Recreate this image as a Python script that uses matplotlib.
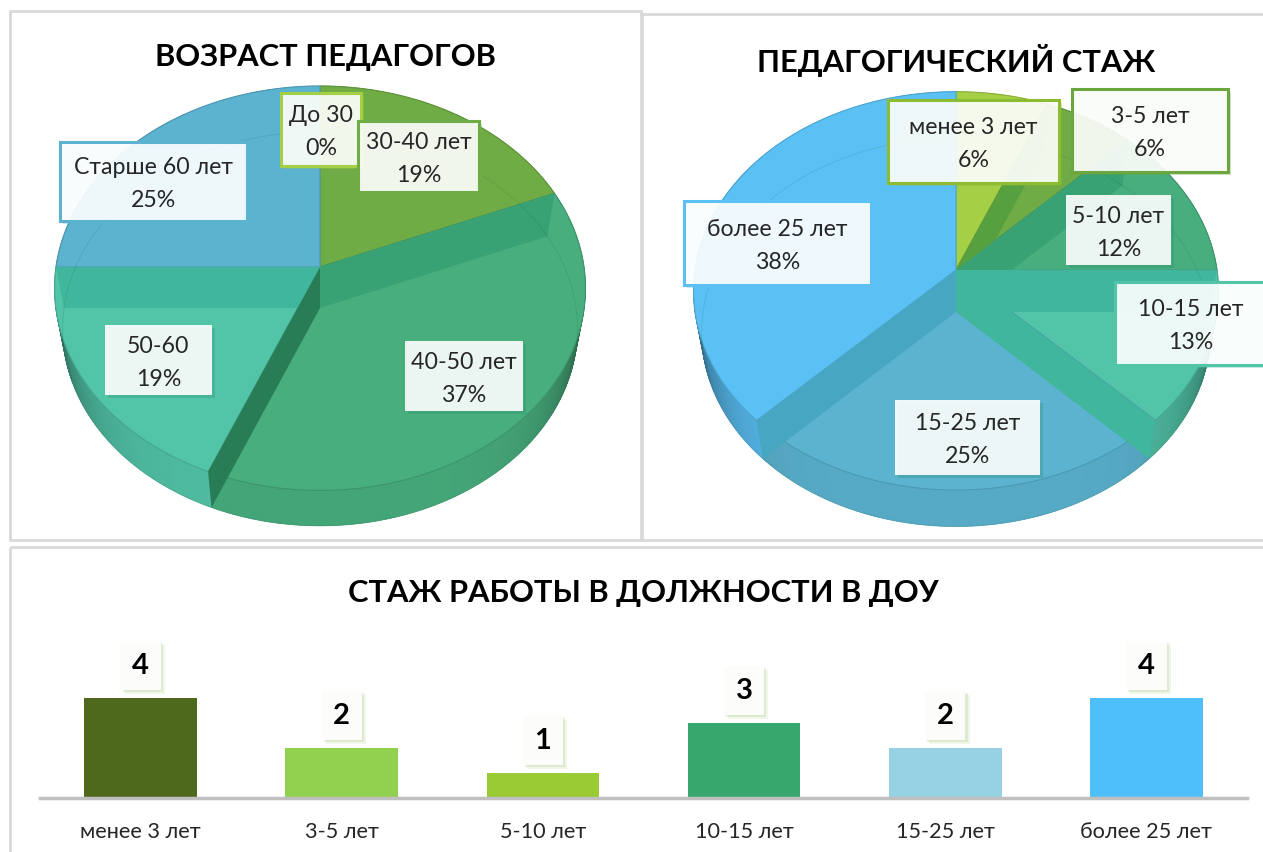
"""Teacher age and experience: two glassy 3D pies and a bar chart."""

import matplotlib

matplotlib.use("Agg")
import matplotlib.pyplot as plt
import matplotlib.patheffects as pe
import numpy as np
from matplotlib.colors import to_rgb
from matplotlib.patches import Polygon, Rectangle

plt.rcParams["font.family"] = ["Lato", "Noto Sans", "DejaVu Sans"]

W, H = 1263, 853

# Counts per slice (16 teachers in total), printed percentages beside them.
AGE_NAMES = ["До 30", "30-40 лет", "40-50 лет", "50-60", "Старше 60 лет"]
AGE_COUNTS = [0, 3, 6, 3, 4]
AGE_PERCENT = ["0%", "19%", "37%", "19%", "25%"]
AGE_COLORS = ["#A5CF45", "#70AC45", "#48AE7E", "#52C4A8", "#5BB3D0"]
AGE_LABEL_BOXES = [
    (281, 94, 361, 167),
    (358, 122, 479, 193),
    (405, 342, 523, 412),
    (105, 326, 212, 396),
    (60, 143, 247, 222),
]
AGE_BORDERS = ["#A5CF45", "#70AC45", "none", "none", "#5BB3D0"]

STAJ_NAMES = ["менее 3 лет", "3-5 лет", "5-10 лет", "10-15 лет", "15-25 лет", "более 25 лет"]
STAJ_COUNTS = [1, 1, 2, 2, 4, 6]
STAJ_PERCENT = ["6%", "6%", "12%", "13%", "25%", "38%"]
STAJ_COLORS = ["#A5CF45", "#70AC45", "#48AE7E", "#52C4A8", "#5BB3D0", "#5BC1F5"]
STAJ_LABEL_BOXES = [
    (888, 101, 1059, 184),
    (1072, 90, 1228, 173),
    (1066, 196, 1171, 266),
    (1115, 283, 1290, 366),
    (895, 401, 1040, 476),
    (684, 202, 871, 286),
]
STAJ_BORDERS = ["#8DBB32", "#6BA63E", "none", "#52C4A8", "none", "#5BC1F5"]

DOU_NAMES = ["менее 3 лет", "3-5 лет", "5-10 лет", "10-15 лет", "15-25 лет", "более 25 лет"]
DOU_COUNTS = [4, 2, 1, 3, 2, 4]
DOU_COLORS = ["#4F691C", "#92D050", "#9ACB34", "#38A76E", "#97D1E4", "#4FBFFB"]


def project(theta, cx, cy, rx, ry, persp=0.105):
    """Map clockwise-from-top angle on a unit circle to pixels, with perspective."""
    x = np.sin(theta)
    y = np.cos(theta)
    s = 1 / (1 + persp * y)
    return np.column_stack([cx + rx * x * s, cy - ry * y * s])


def shade(color, factor):
    return tuple(c * factor for c in to_rgb(color))


def is_front_wall(angle):
    return np.cos(angle) < 0 and abs(np.sin(angle)) < 0.5


def wall_shade(color, angle):
    """Inner walls keep the hue: red drops most, front-facing ones are darker."""
    r, g, b = to_rgb(color)
    if is_front_wall(angle):
        return (r * 0.57, g * 0.72, b * 0.68)
    return (r * 0.78, g * 0.93, b * 0.93)


def draw_pie(ax, counts, colors, cx, cy, depth, rx, ry_top, ry_bot):
    top = dict(cx=cx, cy=cy, rx=rx, ry=ry_top)
    bot = dict(cx=cx, cy=cy + depth, rx=rx - 8, ry=ry_bot)
    edges = np.cumsum([0] + counts) / sum(counts) * 2 * np.pi

    spans = [(a, b, c) for a, b, c in zip(edges[:-1], edges[1:], colors) if b > a]

    # bottom faces
    for a, b, c in spans:
        arc = project(np.linspace(a, b, 120), **bot)
        ax.add_patch(Polygon(np.vstack([[cx, cy + depth], arc]), fc=shade(c, 0.95), ec="none", zorder=2))

    # outer rim, darker towards the left and right ends
    for a, b, c in spans:
        th = np.linspace(a, b, max(int((b - a) * 60), 2))
        upper = project(th, **top)
        lower = project(th, **bot)
        for i in range(len(th) - 1):
            mid = (th[i] + th[i + 1]) / 2
            dark = 0.95 - 0.42 * abs(np.sin(mid)) ** 6
            quad = [upper[i], upper[i + 1], lower[i + 1], lower[i]]
            ax.add_patch(Polygon(quad, fc=shade(c, dark), ec=shade(c, dark), lw=0.4, zorder=3))

    # top faces
    for a, b, c in spans:
        arc = project(np.linspace(a, b, 120), **top)
        ax.add_patch(Polygon(np.vstack([[cx, cy], arc]), fc=c, ec=shade(c, 0.85), lw=0.8, zorder=4))

    # see-through inner walls on top of the faces
    for i, (a, b, c) in enumerate(spans[:-1]):
        # right-hand walls show the next slice, the others show this one
        wall_color = spans[i + 1][2] if b <= np.pi / 2 + 1e-6 else c
        p_top = project(np.array([b]), **top)[0]
        p_bot = project(np.array([b]), **bot)[0]
        quad = [(cx, cy), p_top, p_bot, (cx, cy + depth)]
        z = 5.5 if is_front_wall(b) else 5
        ax.add_patch(Polygon(quad, fc=wall_shade(wall_color, b), ec="none", zorder=z))

    # faint outline of the bottom disc seen through the top
    ring = project(np.linspace(0, 2 * np.pi, 360), **bot)
    ax.plot(ring[:, 0], ring[:, 1], color="#1F5F4A", lw=0.7, alpha=0.15, zorder=6)


def draw_labels(ax, boxes, names, percents, borders, fontsize):
    for (x0, y0, x1, y1), name, pct, border in zip(boxes, names, percents, borders):
        glow = border if border != "none" else "#2F8D72"
        rect = Rectangle(
            (x0, y0), x1 - x0, y1 - y0, fc=(1, 1, 1, 0.9),
            ec=border, lw=2.2 if border != "none" else 0, zorder=8,
        )
        rect.set_path_effects(
            [pe.SimplePatchShadow(offset=(2, -2), shadow_rgbFace=glow, alpha=0.3), pe.Normal()]
        )
        ax.add_patch(rect)
        xc = (x0 + x1) / 2 if x1 < W else 1191
        ym = (y0 + y1) / 2
        ax.text(xc, ym - 15, name, ha="center", va="center", fontsize=fontsize, color="#262626", zorder=9)
        ax.text(xc, ym + 18, pct, ha="center", va="center", fontsize=fontsize, color="#262626", zorder=9)


fig = plt.figure(figsize=(W / 100, H / 100), dpi=100, facecolor="white")

# ── Canvas in pixel units for panels and pies ─────────────────────────────
ax = fig.add_axes([0, 0, 1, 1])
ax.set_xlim(0, W)
ax.set_ylim(H, 0)
ax.axis("off")

frame = dict(fc="none", ec="#D9D9D9", lw=2, zorder=1)
ax.add_patch(Rectangle((10, 12), 631, 529, **frame))
ax.add_patch(Rectangle((642, 15), 660, 526, **frame))
ax.add_patch(Rectangle((10, 548), 1300, 340, **frame))

title = dict(ha="center", va="center", fontsize=22.2, fontweight="bold", color="black", zorder=9)
ax.text(325, 57, "ВОЗРАСТ ПЕДАГОГОВ", **title)
ax.text(956, 60, "ПЕДАГОГИЧЕСКИЙ СТАЖ", **title)
ax.text(643, 593, "СТАЖ РАБОТЫ В ДОЛЖНОСТИ В ДОУ", **title)

draw_pie(ax, AGE_COUNTS, AGE_COLORS, 320, 268, 41, 264, 200, 195)
draw_pie(ax, STAJ_COUNTS, STAJ_COLORS, 956, 271, 42, 261, 197, 192)
draw_labels(ax, AGE_LABEL_BOXES, AGE_NAMES, AGE_PERCENT, AGE_BORDERS, 16.7)
draw_labels(ax, STAJ_LABEL_BOXES, STAJ_NAMES, STAJ_PERCENT, STAJ_BORDERS, 16.7)

# ── Bars ──────────────────────────────────────────────────────────────────
ax_bar = fig.add_axes([40 / W, (H - 798.7) / H, 1207 / W, 99.7 / H])
ax_bar.patch.set_alpha(0)
positions = np.arange(len(DOU_COUNTS))
bars = ax_bar.bar(positions, DOU_COUNTS, width=0.56, color=DOU_COLORS)
ax_bar.set_xlim(-0.5, len(DOU_COUNTS) - 0.5)
ax_bar.set_ylim(0, 4)
ax_bar.set_yticks([])
ax_bar.set_xticks(positions, DOU_NAMES, fontsize=15.6, color="#262626")
ax_bar.tick_params(axis="x", length=0, pad=17)
for side in ("top", "left", "right"):
    ax_bar.spines[side].set_visible(False)
ax_bar.spines["bottom"].set_color("#BFBFBF")
ax_bar.spines["bottom"].set_linewidth(2.5)

for bar, value in zip(bars, DOU_COUNTS):
    label = ax_bar.annotate(
        str(value),
        (bar.get_x() + bar.get_width() / 2, value),
        xytext=(0, 23.5),
        textcoords="offset points",
        ha="center",
        va="center",
        fontsize=21,
        fontweight="bold",
        color="black",
        annotation_clip=False,
        bbox=dict(boxstyle="square,pad=0.4", fc="#FCFDFA", ec="none"),
    )
    label.get_bbox_patch().set_path_effects(
        [
            pe.SimplePatchShadow(offset=(3, -3), shadow_rgbFace="#8DBB62", alpha=0.12),
            pe.SimplePatchShadow(offset=(1.5, -1.5), shadow_rgbFace="#8DBB62", alpha=0.2),
            pe.Normal(),
        ]
    )

fig.savefig("out.png", dpi=100)
